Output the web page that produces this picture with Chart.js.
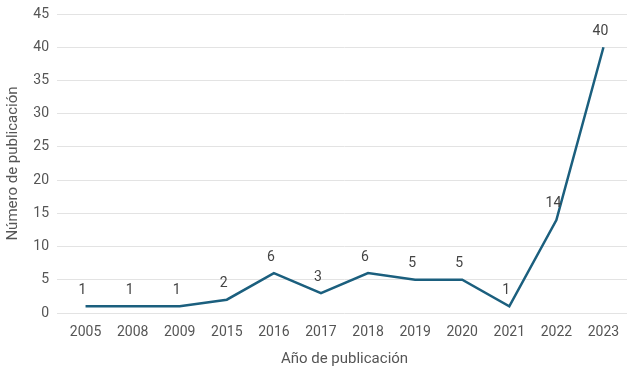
<!DOCTYPE html>
<html>
<head>
<meta charset="utf-8">
<script src="https://cdn.jsdelivr.net/npm/chart.js@4"></script>
<style>
  html, body { margin: 0; padding: 0; background: #fff; }
  #wrap { width: 633px; height: 369px; }
</style>
</head>
<body>
<div id="wrap"><canvas id="pubChart"></canvas></div>
<script>
const years = ["2005", "2008", "2009", "2015", "2016", "2017", "2018", "2019", "2020", "2021", "2022", "2023"];
const publications = [1, 1, 1, 2, 6, 3, 6, 5, 5, 1, 14, 40];
const yTicks = [0, 5, 10, 15, 20, 25, 30, 35, 40, 45];

const textColor = "#555555";
const lineColor = "#1b5f7e";
const fontFamily = "Roboto, 'Noto Sans', sans-serif";

// draws the value above each point
const pointLabels = {
  id: "pointLabels",
  afterDatasetsDraw(chart) {
    const ctx = chart.ctx;
    const meta = chart.getDatasetMeta(0);
    ctx.save();
    ctx.fillStyle = "#444444";
    ctx.font = "14px " + fontFamily;
    ctx.textAlign = "center";
    ctx.textBaseline = "bottom";
    meta.data.forEach((pt, i) => {
      ctx.fillText(publications[i], pt.x - 3, pt.y - 9);
    });
    ctx.restore();
  }
};

const ctx = document.getElementById("pubChart").getContext("2d");
new Chart(ctx, {
  type: "line",
  data: {
    labels: years,
    datasets: [{
      label: "Publicaciones",
      data: publications,
      borderColor: lineColor,
      borderWidth: 2.5,
      pointRadius: 0,
      tension: 0,
      fill: false
    }]
  },
  options: {
    responsive: true,
    maintainAspectRatio: false,
    animation: false,
    layout: { padding: { top: 14, right: 6, left: 0, bottom: 0 } },
    plugins: {
      legend: { display: false },
      tooltip: { enabled: false }
    },
    scales: {
      x: {
        offset: true,
        grid: { display: false },
        border: { display: false },
        ticks: { color: textColor, font: { family: fontFamily, size: 14 }, padding: 3, maxRotation: 0, autoSkip: false },
        title: { display: true, text: "Año de publicación", color: textColor, font: { family: fontFamily, size: 15 }, padding: { top: 10, bottom: 1 } },
        afterFit: s => { s.height = 56; }
      },
      y: {
        min: 0,
        max: 45,
        afterBuildTicks: s => { s.ticks = yTicks.map(v => ({ value: v })); },
        grid: { color: "#e3e3e3", lineWidth: 1, tickLength: 5, tickColor: "#e3e3e3" },
        border: { display: false },
        ticks: { color: textColor, font: { family: fontFamily, size: 14 }, padding: 8 },
        title: { display: true, text: "Número de publicación", color: textColor, font: { family: fontFamily, size: 15 }, padding: { bottom: 4 } },
        afterFit: s => { s.width = 62; s.paddingTop = 0; s.paddingBottom = 0; }
      }
    }
  },
  plugins: [pointLabels]
});
</script>
</body>
</html>
